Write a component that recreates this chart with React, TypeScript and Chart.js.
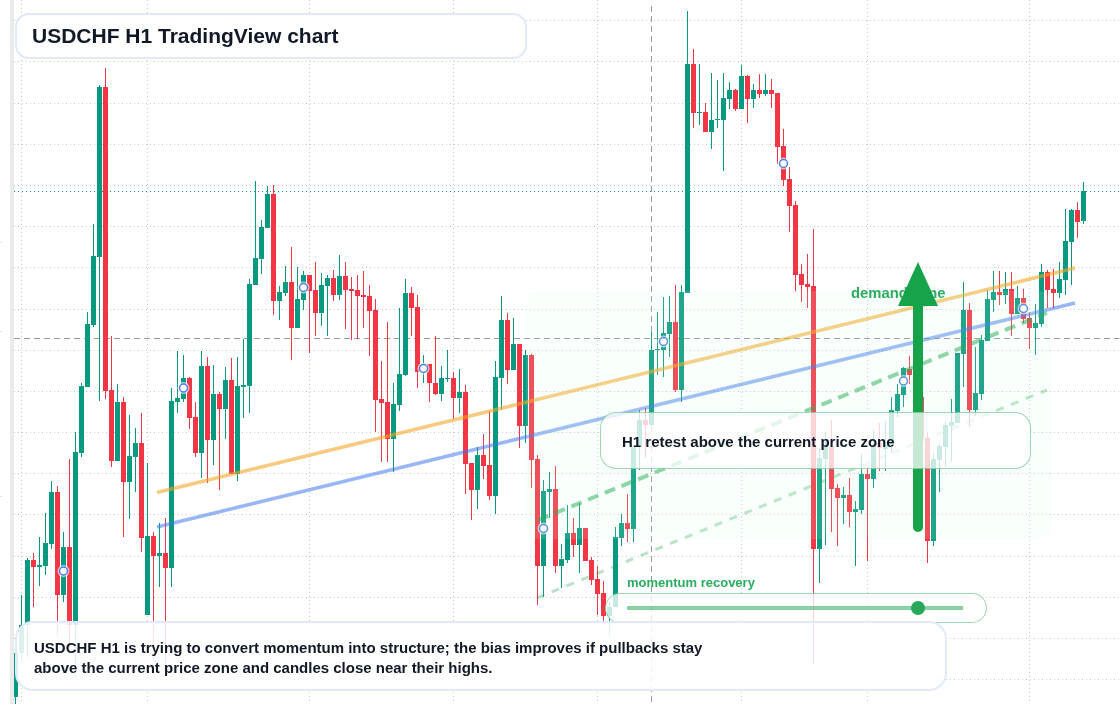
import { useEffect, useRef } from 'react';
import { Chart, registerables } from 'chart.js';

Chart.register(...registerables);

// H1 candles, in points on the unlabelled price axis
const opens = [
  7, 51, 79, 144, 137, 138, 160, 212, 109, 157, 79, 251, 317, 379, 447, 617, 314, 243, 302, 222,
  247, 261, 89, 168, 148, 151, 136, 302, 305, 326, 287, 251, 338, 264, 310, 295, 324, 230, 317, 318,
  419, 445, 476, 510, 403, 411, 422, 376, 404, 429, 414, 391, 418, 426, 409, 428, 415, 414, 409, 408,
  394, 305, 302, 265, 299, 329, 411, 397, 332, 340, 321, 310, 325, 326, 306, 312, 241, 214, 249, 239,
  208, 326, 384, 334, 360, 278, 349, 245, 138, 212, 215, 138, 144, 171, 159, 176, 144, 125, 111, 88,
  97, 166, 181, 175, 257, 284, 279, 354, 354, 370, 382, 314, 411, 640, 591, 592, 572, 584, 584, 605,
  614, 595, 628, 605, 614, 610, 614, 611, 558, 525, 499, 430, 420, 418, 155, 245, 257, 216, 206, 209,
  192, 194, 230, 225, 261, 255, 259, 293, 309, 335, 329, 307, 266, 163, 244, 257, 278, 281, 350, 394,
  294, 310, 363, 404, 412, 409, 415, 390, 406, 386, 376, 380, 432, 415, 411, 424, 462, 494, 483,
];
const highs = [
  64, 109, 146, 151, 167, 191, 223, 218, 172, 245, 272, 321, 392, 480, 619, 636, 368, 320, 307, 289,
  276, 291, 241, 172, 181, 186, 316, 353, 349, 327, 302, 353, 347, 339, 312, 337, 346, 347, 365, 425,
  523, 484, 518, 519, 418, 438, 457, 437, 433, 429, 442, 431, 429, 434, 449, 442, 427, 429, 433, 419,
  405, 343, 382, 321, 396, 425, 417, 409, 349, 340, 368, 338, 354, 332, 335, 319, 241, 257, 270, 293,
  343, 408, 391, 386, 360, 354, 350, 249, 224, 232, 238, 160, 199, 186, 201, 176, 147, 138, 123, 102,
  177, 190, 210, 257, 294, 296, 372, 392, 407, 408, 419, 419, 693, 655, 640, 601, 631, 624, 631, 622,
  615, 639, 629, 620, 630, 630, 625, 611, 575, 537, 503, 440, 450, 475, 256, 272, 284, 220, 217, 226,
  203, 250, 237, 274, 281, 283, 307, 320, 337, 348, 334, 309, 272, 251, 260, 283, 305, 351, 422, 401,
  357, 369, 414, 433, 433, 432, 432, 418, 415, 391, 400, 440, 434, 435, 442, 495, 495, 502, 522,
];
const lows = [
  0, 44, 47, 97, 118, 129, 155, 69, 102, 54, 27, 247, 317, 377, 303, 305, 237, 243, 167, 185,
  212, 152, 89, 44, 117, 41, 117, 291, 302, 275, 247, 226, 221, 239, 214, 265, 230, 223, 286, 291,
  419, 430, 476, 389, 384, 408, 344, 376, 394, 351, 368, 378, 368, 403, 404, 375, 364, 365, 376, 348,
  272, 242, 242, 232, 293, 328, 368, 316, 321, 302, 309, 303, 322, 285, 291, 210, 184, 195, 225, 204,
  190, 294, 320, 334, 256, 261, 216, 99, 107, 186, 131, 116, 141, 147, 131, 143, 119, 89, 82, 69,
  97, 158, 162, 162, 234, 246, 279, 329, 327, 347, 312, 302, 411, 576, 579, 572, 555, 576, 533, 595,
  593, 595, 581, 596, 606, 608, 596, 540, 518, 472, 413, 402, 396, 39, 121, 159, 172, 158, 180, 177,
  138, 190, 143, 216, 233, 233, 251, 287, 297, 320, 304, 259, 141, 158, 212, 237, 242, 281, 317, 277,
  288, 304, 363, 392, 399, 400, 368, 390, 381, 355, 349, 377, 396, 396, 406, 409, 419, 466, 480,
];
const closes = [
  51, 79, 144, 137, 139, 161, 212, 109, 157, 79, 252, 318, 380, 448, 617, 313, 243, 302, 222, 248,
  261, 166, 168, 148, 151, 136, 303, 306, 326, 286, 251, 338, 264, 310, 295, 324, 230, 318, 319, 420,
  446, 477, 510, 403, 412, 422, 376, 405, 429, 413, 391, 419, 426, 409, 428, 414, 413, 408, 407, 393,
  304, 301, 265, 300, 330, 411, 396, 332, 340, 321, 310, 326, 326, 306, 312, 240, 214, 249, 238, 208,
  327, 384, 334, 360, 278, 349, 244, 138, 213, 215, 138, 145, 171, 159, 176, 143, 124, 110, 88, 97,
  167, 181, 175, 257, 284, 279, 354, 355, 371, 382, 314, 412, 640, 591, 592, 572, 584, 585, 606, 614,
  595, 628, 605, 614, 610, 614, 610, 557, 524, 498, 429, 419, 417, 155, 246, 259, 215, 206, 209, 192,
  195, 230, 225, 259, 256, 259, 294, 310, 336, 329, 307, 266, 163, 245, 258, 279, 282, 351, 394, 294,
  311, 364, 405, 412, 409, 415, 390, 406, 385, 376, 381, 432, 414, 411, 425, 463, 494, 482, 513,
];

const gridCandles = [1, 22, 49, 73, 97, 121, 142, 169];
const gridLevels = [684, 643, 601, 560, 519, 478, 437, 395, 354, 313, 272, 231, 190, 148, 107, 66, 25];

const signalCandles = [8, 28, 48, 68, 88, 108, 128, 148, 168];
const signalLevels = [133, 316, 416.5, 335.5, 175.5, 362.5, 540.5, 323, 395.5];

const currentPrice = 365.5;
const lastPrice = 512.5;
const crosshairCandle = 106;

const resistanceLine = [{ x: 23.58, y: 211.5 }, { x: 176.58, y: 436 }];
const supportLine = [{ x: 23.58, y: 177 }, { x: 176.58, y: 401 }];
const recoveryLine = [{ x: 87.1, y: 184 }, { x: 171.9, y: 391 }];
const lowerGuide = [{ x: 86.9, y: 106 }, { x: 171.9, y: 314 }];

const UP = '#089981';
const DOWN = '#f23645';

const overlayFont = '"Liberation Sans", Arial, sans-serif';

function flatLine(points: { x: number; y: number }[], color: string, width: number, dash: number[], order: number) {
  return {
    type: 'line' as const,
    data: points,
    borderColor: color,
    borderWidth: width,
    borderDash: dash,
    pointRadius: 0,
    order,
  };
}

function CandleChart() {
  const ref = useRef<HTMLCanvasElement>(null);

  useEffect(() => {
    if (!ref.current) return;
    const colors = opens.map((o, i) => (closes[i] >= o ? UP : DOWN));
    const chart = new Chart(ref.current, {
      type: 'bar',
      data: {
        datasets: [
          {
            type: 'scatter' as any,
            data: signalCandles.map((x, i) => ({ x, y: signalLevels[i] })),
            pointStyle: 'circle',
            pointRadius: 4,
            borderWidth: 1.5,
            pointBorderColor: '#4a7ff0',
            pointBackgroundColor: '#ffffff',
            showLine: false,
            order: 1,
          },
          {
            type: 'scatter' as any,
            data: signalCandles.map((x, i) => ({ x, y: signalLevels[i] })),
            pointStyle: 'circle',
            pointRadius: 6,
            borderWidth: 0,
            pointBackgroundColor: 'rgba(255,255,255,0.65)',
            showLine: false,
            order: 2,
          },
          flatLine(resistanceLine, 'rgba(245,166,35,0.58)', 3.5, [], 3),
          flatLine(supportLine, 'rgba(59,116,240,0.52)', 3.5, [], 3),
          flatLine(recoveryLine, 'rgba(22,163,74,0.52)', 4, [11, 7], 3),
          flatLine(lowerGuide, 'rgba(22,163,74,0.3)', 3, [8, 8], 3),
          {
            data: opens.map((o, i) => ({ x: i, y: [o, closes[i]] })),
            backgroundColor: colors,
            barThickness: 5,
            grouped: false,
            inflateAmount: 0,
            order: 4,
          },
          {
            data: opens.map((_, i) => ({ x: i, y: [lows[i], highs[i]] })),
            backgroundColor: colors,
            barThickness: 1,
            grouped: false,
            inflateAmount: 0,
            order: 5,
          },
          flatLine([{ x: -0.25, y: currentPrice }, { x: 184, y: currentPrice }], '#9a9a9a', 1, [6, 4], 6),
          flatLine([{ x: -0.25, y: lastPrice }, { x: 184, y: lastPrice }], UP, 1, [1, 3], 6),
          flatLine([{ x: crosshairCandle, y: 2 }, { x: crosshairCandle, y: 702 }], '#9a9a9a', 1, [6, 4], 6),
        ] as any,
      },
      options: {
        animation: false,
        responsive: false,
        layout: { autoPadding: false, padding: { left: 14, right: 0, top: 0, bottom: 0 } },
        plugins: { legend: { display: false }, tooltip: { enabled: false } },
        scales: {
          x: {
            type: 'linear',
            min: -0.25,
            max: 184.0833,
            offset: false,
            afterBuildTicks: (s: any) => { s.ticks = gridCandles.map((value) => ({ value })); },
            ticks: { display: false },
            border: { display: false, dash: [1, 3] },
            grid: { offset: false, color: '#c9c9c9', drawTicks: false },
          },
          y: {
            min: 0,
            max: 704,
            afterBuildTicks: (s: any) => { s.ticks = gridLevels.map((value) => ({ value })); },
            ticks: { display: false },
            border: { display: false, dash: [1, 3] },
            grid: { color: '#c9c9c9', drawTicks: false },
          },
        },
      } as any,
    });
    return () => { chart.destroy(); };
  }, []);

  return <canvas ref={ref} width={1120} height={704} style={{ position: 'absolute', left: 0, top: 0, display: 'block' }} />;
}

function box(left: number, top: number, width: number, height: number, extra: React.CSSProperties): React.CSSProperties {
  return { position: 'absolute', left, top, width, height, boxSizing: 'border-box', ...extra };
}

export default function App() {
  return (
    <div style={{ position: 'fixed', left: 0, top: 0, width: 1120, height: 704, overflow: 'hidden', background: '#fff', fontFamily: overlayFont }}>
      <div style={box(10, 0, 4, 704, { background: '#ebebeb' })} />
      {[242, 331, 496].map((top) => <div key={top} style={box(0, top, 2, 1, { background: '#e2e2e2' })} />)}
      <CandleChart />

      <div style={box(526, 291, 526, 248, { borderRadius: 14, background: 'rgba(209,255,217,0.13)' })} />

      <div style={box(851, 285, 120, 17, { color: '#2aad5f', fontSize: 14.8, fontWeight: 700, lineHeight: '17px', whiteSpace: 'nowrap' })}>demand zone</div>

      <svg width={1120} height={704} style={{ position: 'absolute', left: 0, top: 0 }}>
        <line x1={918} y1={300} x2={918} y2={527} stroke="#16a34a" strokeWidth={10} strokeLinecap="round" />
        <polygon points="918,262 938,306 898,306" fill="#16a34a" />
      </svg>

      <div style={box(600, 412, 431, 57, { borderRadius: 16, border: '1.5px solid rgba(22,163,74,0.42)', background: 'rgba(255,255,255,0.76)' })} />
      <div style={box(622, 433, 400, 18, { color: '#111827', fontSize: 15, fontWeight: 700, lineHeight: '18px', whiteSpace: 'nowrap' })}>H1 retest above the current price zone</div>

      <div style={box(627, 575, 200, 16, { color: '#2aad5f', fontSize: 13, fontWeight: 700, lineHeight: '16px', whiteSpace: 'nowrap' })}>momentum recovery</div>
      <div style={box(605, 593, 382, 30, { borderRadius: 15, border: '1.5px solid rgba(22,163,74,0.42)', background: 'rgba(255,255,255,0.78)' })} />
      <div style={box(627, 605.5, 336, 4, { background: 'rgba(22,163,74,0.5)' })} />
      <div style={box(911, 601, 14, 14, { borderRadius: 7, background: '#2aa85a' })} />

      <div style={box(15, 621, 932, 70, { borderRadius: 18, border: '2px solid #dfeafc', background: 'rgba(255,255,255,0.86)' })} />
      <div style={box(34, 638, 900, 40, { color: '#111827', fontSize: 15, fontWeight: 700, lineHeight: '20px', whiteSpace: 'nowrap' })}>
        USDCHF H1 is trying to convert momentum into structure; the bias improves if pullbacks stay<br />
        above the current price zone and candles close near their highs.
      </div>

      <div style={box(15, 13, 512, 46, { borderRadius: 14, border: '2px solid #dfeafc', background: 'rgba(255,255,255,0.92)' })} />
      <div style={box(32, 23, 480, 26, { color: '#111827', fontSize: 21, fontWeight: 700, lineHeight: '26px', whiteSpace: 'nowrap' })}>USDCHF H1 TradingView chart</div>
    </div>
  );
}
